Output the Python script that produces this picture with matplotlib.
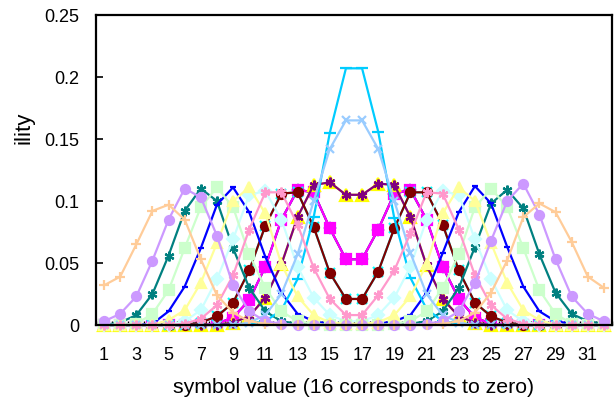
import numpy as np
import matplotlib.pyplot as plt
from matplotlib.ticker import FixedLocator

plt.rcParams['font.family'] = ['Liberation Sans', 'DejaVu Sans']

# symbol values 1..32 (16 is zero)
symbols = np.arange(1, 33)
tick_labels = [str(s) for s in range(1, 33, 2)]

# probability of each symbol value, one list per curve
p_tan = [0.032, 0.039, 0.065, 0.092, 0.097, 0.085, 0.053, 0.024, 0.010, 0.003, 0.001, 0, 0, 0, 0, 0,
         0, 0, 0, 0, 0, 0.001, 0.003, 0.010, 0.026, 0.052, 0.087, 0.098, 0.091, 0.067, 0.039, 0.030]
p_lavender = [0.003, 0.009, 0.023, 0.052, 0.085, 0.110, 0.103, 0.072, 0.032, 0.011, 0.003, 0.001, 0, 0, 0, 0,
              0, 0, 0, 0, 0.001, 0.003, 0.011, 0.034, 0.068, 0.100, 0.114, 0.089, 0.053, 0.023, 0.009, 0.003]
p_teal = [0, 0.002, 0.008, 0.025, 0.056, 0.092, 0.110, 0.100, 0.062, 0.030, 0.011, 0.003, 0.001, 0, 0, 0,
          0, 0, 0, 0.001, 0.003, 0.011, 0.030, 0.063, 0.098, 0.109, 0.094, 0.057, 0.026, 0.009, 0.003, 0.001]
p_green = [0, 0, 0.001, 0.009, 0.028, 0.062, 0.095, 0.111, 0.095, 0.057, 0.030, 0.011, 0.003, 0.001, 0, 0,
           0, 0, 0.001, 0.003, 0.011, 0.030, 0.057, 0.095, 0.110, 0.095, 0.062, 0.028, 0.009, 0.001, 0, 0]
p_blue = [0, 0, 0, 0.001, 0.011, 0.031, 0.062, 0.097, 0.111, 0.091, 0.055, 0.026, 0.009, 0.003, 0.001, 0,
          0, 0.001, 0.003, 0.008, 0.026, 0.058, 0.091, 0.112, 0.098, 0.063, 0.031, 0.011, 0.003, 0.001, 0, 0]
p_lightyellow = [0, 0, 0, 0, 0.004, 0.012, 0.034, 0.066, 0.100, 0.111, 0.090, 0.049, 0.023, 0.008, 0.002, 0.001,
                 0.001, 0.002, 0.008, 0.023, 0.049, 0.090, 0.111, 0.100, 0.066, 0.034, 0.012, 0.004, 0, 0, 0, 0]
p_turquoise = [0, 0, 0, 0, 0, 0.003, 0.012, 0.037, 0.069, 0.105, 0.108, 0.085, 0.047, 0.022, 0.008, 0.003,
               0.003, 0.008, 0.022, 0.047, 0.085, 0.108, 0.105, 0.069, 0.037, 0.012, 0.003, 0, 0, 0, 0, 0]
p_rose = [0, 0, 0, 0, 0, 0.001, 0.005, 0.016, 0.040, 0.077, 0.107, 0.107, 0.081, 0.046, 0.021, 0.008,
          0.008, 0.024, 0.044, 0.074, 0.107, 0.106, 0.077, 0.040, 0.016, 0.005, 0.001, 0, 0, 0, 0, 0]
p_darkred = [0, 0, 0, 0, 0, 0, 0.002, 0.007, 0.018, 0.044, 0.080, 0.106, 0.107, 0.079, 0.042, 0.021,
             0.021, 0.043, 0.078, 0.107, 0.107, 0.081, 0.044, 0.018, 0.007, 0.002, 0, 0, 0, 0, 0, 0]
p_magenta = [0, 0, 0, 0, 0, 0, 0, 0.001, 0.006, 0.020, 0.047, 0.085, 0.109, 0.107, 0.078, 0.053,
             0.053, 0.077, 0.106, 0.109, 0.085, 0.047, 0.021, 0.006, 0.001, 0, 0, 0, 0, 0, 0, 0]
p_purple = [0, 0, 0, 0, 0, 0, 0, 0, 0.002, 0.007, 0.022, 0.049, 0.087, 0.113, 0.115, 0.105,
            0.105, 0.114, 0.113, 0.087, 0.048, 0.021, 0.007, 0.002, 0, 0, 0, 0, 0, 0, 0, 0]
p_paleblue = [0, 0, 0, 0, 0, 0, 0, 0, 0, 0.002, 0.008, 0.025, 0.057, 0.100, 0.142, 0.165,
              0.165, 0.142, 0.100, 0.058, 0.025, 0.008, 0.002, 0, 0, 0, 0, 0, 0, 0, 0, 0]
p_skyblue = [0, 0, 0, 0, 0, 0, 0, 0, 0, 0.001, 0.003, 0.012, 0.037, 0.087, 0.155, 0.207,
             0.207, 0.156, 0.086, 0.038, 0.013, 0.003, 0.001, 0, 0, 0, 0, 0, 0, 0, 0, 0]

# (values, colour, marker, marker size) in drawing order
series = [
    (p_magenta, '#000080', 'D', 5),
    (p_magenta, '#FF00FF', 's', 7),
    (p_purple, '#FFFF00', '^', 8),
    (p_darkred, '#00FFFF', 'x', 7),
    (p_purple, '#800080', (6, 2, 0), 7),
    (p_darkred, '#800000', 'o', 6.5),
    (p_teal, '#008080', (6, 2, 0), 7),
    (p_blue, '#0000FF', '_', 5),
    (p_skyblue, '#00CCFF', '_', 9),
    (p_turquoise, '#CCFFFF', 'D', 6),
    (p_green, '#CCFFCC', 's', 6.5),
    (p_lightyellow, '#FFFF99', '^', 7.5),
    (p_paleblue, '#99CCFF', 'x', 6),
    (p_rose, '#FF99CC', (6, 2, 0), 7),
    (p_lavender, '#CC99FF', 'o', 6.5),
    (p_tan, '#FFCC99', '+', 7),
]

fig = plt.figure(figsize=(6.14, 4.0), dpi=100)
ax = fig.add_axes([96 / 614, 75 / 400, 516 / 614, 310 / 400])

for i, (vals, col, mk, ms) in enumerate(series):
    filled = mk not in ('x', '+', '_') and not isinstance(mk, tuple)
    ax.plot(symbols, vals, color=col, lw=1.6, marker=mk, ms=ms,
            mfc=col if filled else 'none', mec=col, mew=1.6, zorder=2 + i,
            clip_on=False)

ax.set_xlim(0.5, 32.5)
ax.set_ylim(0, 0.25)
ax.set_yticks([0, 0.05, 0.1, 0.15, 0.2, 0.25])
ax.set_yticklabels(['0', '0.05', '0.1', '0.15', '0.2', '0.25'])
ax.set_xticks(np.arange(1, 33, 2))
ax.set_xticklabels(tick_labels)
ax.xaxis.set_minor_locator(FixedLocator(np.arange(0.5, 33, 1)))
ax.tick_params(axis='y', direction='in', length=5, width=1.2, labelsize=13, pad=12)
ax.tick_params(axis='x', which='major', length=0, labelsize=13, pad=16)
ax.tick_params(axis='x', which='minor', direction='in', length=3, width=1)
for sp in ax.spines.values():
    sp.set_linewidth(1.6)
    sp.set_zorder(30)

ax.set_xlabel('symbol value (16 corresponds to zero)', fontsize=15.3, labelpad=10)
fig.text(24 / 614, 1 - 128 / 400, 'ility', rotation=90, fontsize=16,
         ha='center', va='center')

fig.savefig('out.png', dpi=100)
